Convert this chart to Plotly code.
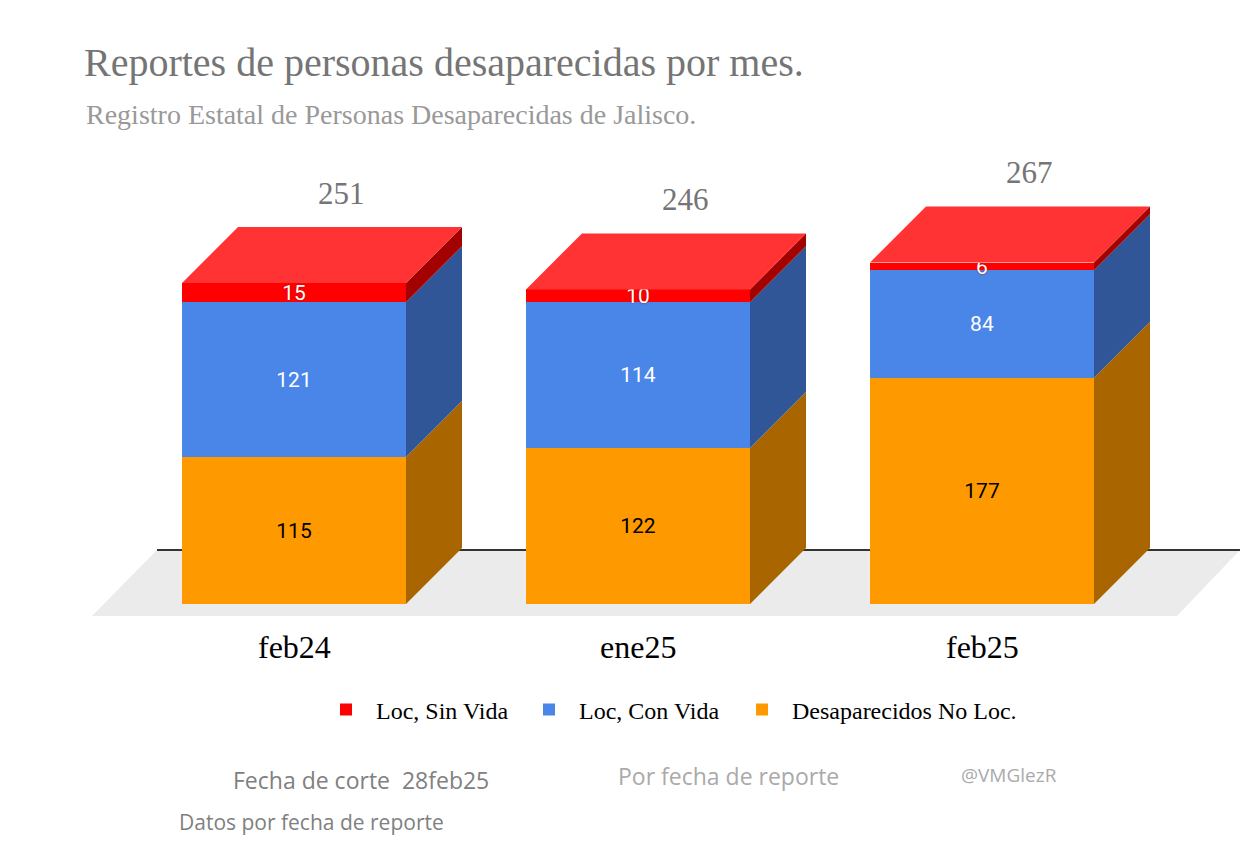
import plotly.graph_objects as go

# ---------------- data ----------------
categories = ["feb24", "ene25", "feb25"]
no_loc = [115, 122, 177]        # Desaparecidos No Loc.
con_vida = [121, 114, 84]       # Loc, Con Vida
sin_vida = [15, 10, 6]          # Loc, Sin Vida
series_names = ["Desaparecidos No Loc.", "Loc, Con Vida", "Loc, Sin Vida"]

# ---------------- styling / geometry constants ----------------
FRONT = ["#ff9900", "#4a86e8", "#ff0000"]
SIDE = ["#a86500", "#305698", "#a30000"]
TOP_COLOR = "#ff3333"
TEXT_COLORS = ["black", "white", "white"]
TEXT_SHADOWS = ["none", "none", "0px 0px 2px #b00000"]
LEGENDS = ["legend3", "legend2", "legend"]
LEGEND_TEXT_PX = [792, 579, 376]   # where each legend entry's text starts

PX_PER_CAT = 344.0           # pixels between categories
PX_PER_UNIT = 321.0 / 251.0  # pixels per unit of value
X0_PX, Y0_PX = 294.0, 604.0  # pixel position of category 0 / value 0
BAR_W = 224.0 / PX_PER_CAT
DX = 56.0 / PX_PER_CAT
DY = 56.0 / PX_PER_UNIT

W, H = 1256, 862
ML, MR, MT, MB = 88, 6, 150, 232

def px_to_x(p):
    return (p - X0_PX) / PX_PER_CAT

def px_to_y(p):
    return (Y0_PX - p) / PX_PER_UNIT

def paper_x(p):
    return (p - ML) / (W - ML - MR)

def paper_y(p):
    return (H - MB - p) / (H - MT - MB)

xr = [px_to_x(ML), px_to_x(W - MR)]
yr = [px_to_y(H - MB), px_to_y(MT)]

series = [no_loc, con_vida, sin_vida]
totals = [a + b + c for a, b, c in zip(no_loc, con_vida, sin_vida)]
xs = list(range(len(categories)))

fig = go.Figure()

# front faces (stacked bars)
for s, name, fc, tc, sh, lg in zip(series, series_names, FRONT, TEXT_COLORS,
                                   TEXT_SHADOWS, LEGENDS):
    fig.add_trace(go.Bar(
        x=xs, y=s, name=name, width=BAR_W, legend=lg,
        marker=dict(color=fc, line=dict(width=0)),
        text=[str(v) for v in s], textposition="inside", textangle=0,
        insidetextanchor="middle", constraintext="none",
        textfont=dict(family="Roboto", size=21, color=tc, shadow=sh),
        hoverinfo="skip",
    ))

# side faces
bases = [0] * len(xs)
for s, sc in zip(series, SIDE):
    px_, py_ = [], []
    for i, v in enumerate(s):
        b = bases[i]
        t = b + v
        xr_ = i + BAR_W / 2
        px_ += [xr_, xr_ + DX, xr_ + DX, xr_, xr_, None]
        py_ += [b, b + DY, t + DY, t, b, None]
        bases[i] = t
    fig.add_trace(go.Scatter(x=px_, y=py_, mode="lines", fill="toself",
                             fillcolor=sc, line=dict(width=0, color=sc),
                             showlegend=False, hoverinfo="skip"))

# top faces
tx, ty = [], []
for i, t in enumerate(totals):
    xl, xr2 = i - BAR_W / 2, i + BAR_W / 2
    tx += [xl, xr2, xr2 + DX, xl + DX, xl, None]
    ty += [t, t, t + DY, t + DY, t, None]
fig.add_trace(go.Scatter(x=tx, y=ty, mode="lines", fill="toself",
                         fillcolor=TOP_COLOR, line=dict(width=0, color=TOP_COLOR),
                         showlegend=False, hoverinfo="skip"))

# floor + back line
fl_front, fl_back = px_to_y(616), px_to_y(550)
fig.add_shape(type="path", xref="x", yref="y", layer="below",
              path=f"M {px_to_x(92)},{fl_front} L {px_to_x(1177)},{fl_front} "
                   f"L {px_to_x(1240)},{fl_back} L {px_to_x(157)},{fl_back} Z",
              fillcolor="#ebebeb", line=dict(width=0))
fig.add_shape(type="line", xref="x", yref="y", layer="below",
              x0=px_to_x(157), x1=px_to_x(1240), y0=fl_back, y1=fl_back,
              line=dict(color="#333333", width=2))

annotations = []
# totals
for i, t in enumerate(totals):
    annotations.append(dict(x=i + DX * 0.85, y=t + DY, xref="x", yref="y",
                            text=str(t), showarrow=False, yshift=34,
                            font=dict(family="Liberation Serif", size=31, color="#757575")))
# category labels
for i, c in enumerate(categories):
    annotations.append(dict(x=i, y=paper_y(647), xref="x", yref="paper", text=c,
                            showarrow=False, yanchor="middle",
                            font=dict(family="Liberation Serif", size=32, color="black")))

annotations.append(dict(x=paper_x(84), y=paper_y(114), xref="paper", yref="paper",
                        xanchor="left", yanchor="middle", showarrow=False,
                        text="Registro Estatal de Personas Desaparecidas de Jalisco.",
                        font=dict(family="Liberation Serif", size=28, color="#999999")))
foot_font = "Open Sans"
annotations.append(dict(x=paper_x(231), y=paper_y(780), xref="paper", yref="paper",
                        xanchor="left", yanchor="middle", showarrow=False,
                        text="Fecha de corte\u00a0\u00a028feb25",
                        font=dict(family=foot_font, size=23, color="#808080")))
annotations.append(dict(x=paper_x(616), y=paper_y(776), xref="paper", yref="paper",
                        xanchor="left", yanchor="middle", showarrow=False,
                        text="Por fecha de reporte",
                        font=dict(family=foot_font, size=23, color="#aaaaaa")))
annotations.append(dict(x=paper_x(959), y=paper_y(775), xref="paper", yref="paper",
                        xanchor="left", yanchor="middle", showarrow=False,
                        text="@VMGlezR",
                        font=dict(family=foot_font, size=19, color="#aaaaaa")))
annotations.append(dict(x=paper_x(177), y=paper_y(822), xref="paper", yref="paper",
                        xanchor="left", yanchor="middle", showarrow=False,
                        text="Datos por fecha de reporte",
                        font=dict(family=foot_font, size=21, color="#808080")))

legend_layout = {}
for lg, tpx in zip(LEGENDS, LEGEND_TEXT_PX):
    legend_layout[lg] = dict(
        orientation="h", x=paper_x(tpx - 60), xanchor="left",
        y=paper_y(710), yanchor="middle", itemwidth=50,
        font=dict(family="Liberation Serif", size=24, color="black"),
        bgcolor="rgba(0,0,0,0)", itemclick=False, itemdoubleclick=False)

fig.update_layout(
    width=W, height=H, autosize=False,
    margin=dict(l=ML, r=MR, t=MT, b=MB),
    paper_bgcolor="white", plot_bgcolor="white",
    barmode="stack", bargap=0,
    title=dict(text="Reportes de personas desaparecidas por mes.",
               x=84 / W, xanchor="left", xref="container",
               y=1 - 62 / H, yanchor="middle", yref="container",
               font=dict(family="Liberation Serif", size=40, color="#757575")),
    xaxis=dict(range=xr, visible=False, fixedrange=True),
    yaxis=dict(range=yr, visible=False, fixedrange=True),
    showlegend=True,
    annotations=annotations,
    **legend_layout,
)

fig.write_html("out.html")
